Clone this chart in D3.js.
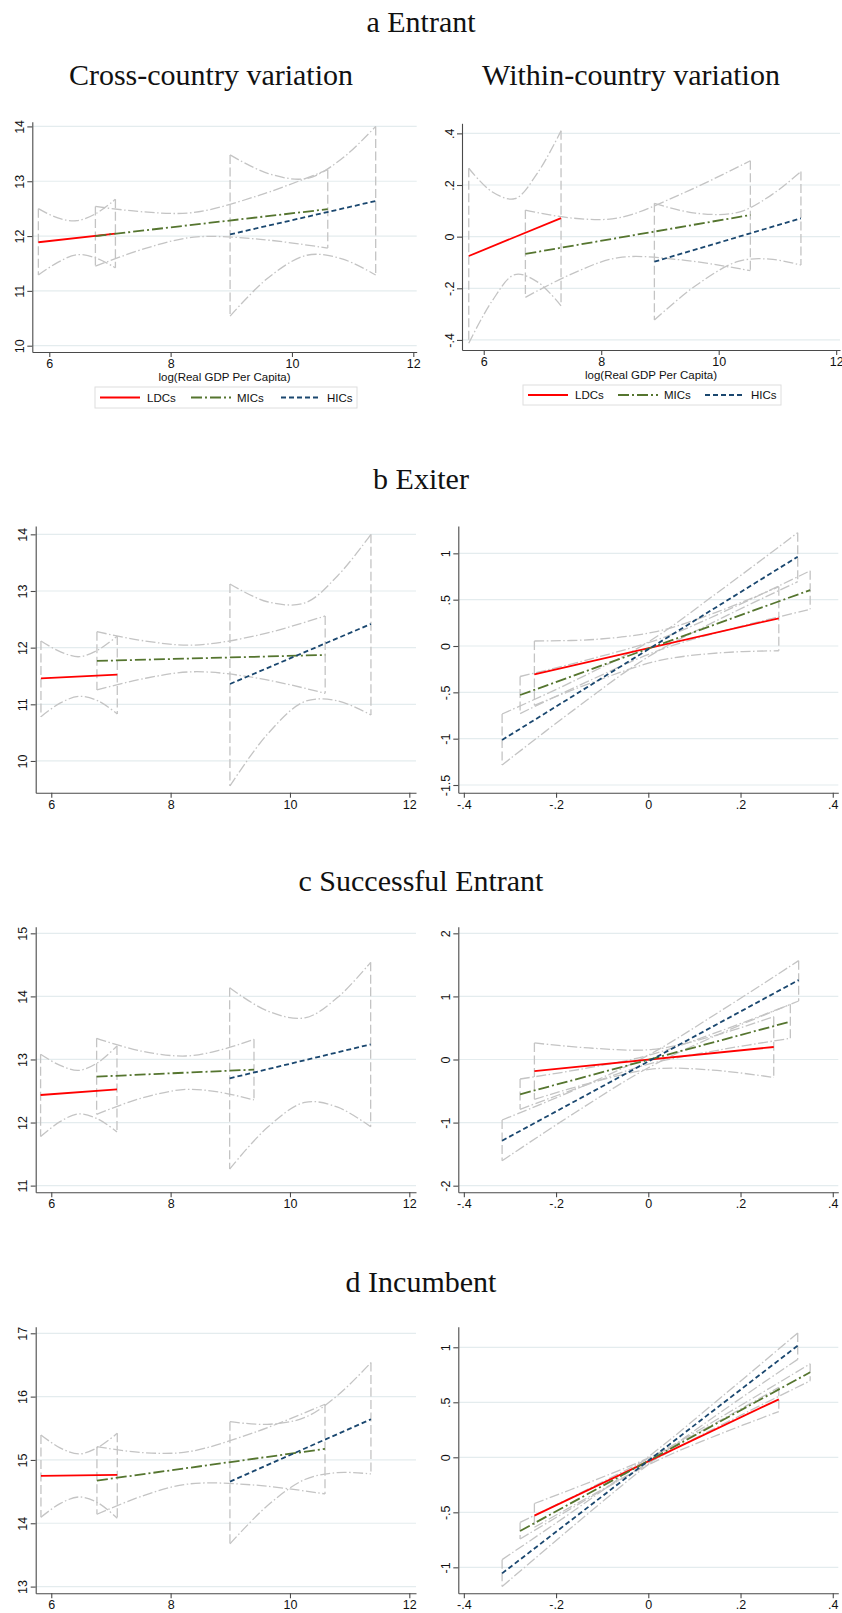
<!DOCTYPE html>
<meta charset="utf-8">
<body style="margin:0">
<script src="https://d3js.org/d3.v7.min.js"></script>
<script>

// Groups shown in every panel.

var groups = ["LDCs", "MICs", "HICs"];

// Section and column titles.

var sectionTitles = ["a Entrant", "b Exiter", "c Successful Entrant", "d Incumbent"];
var columnTitles = ["Cross-country variation", "Within-country variation"];
var xTitle = "log(Real GDP Per Capita)";

// Tick values.

var gdpTicks = [6, 8, 10, 12];
var withinTicks = [-.4, -.2, 0, .2, .4];
var entrantCrossTicks = [10, 11, 12, 13, 14];
var entrantWithinTicks = [-.4, -.2, 0, .2, .4];
var exiterCrossTicks = [10, 11, 12, 13, 14];
var exiterWithinTicks = [-1.5, -1, -.5, 0, .5, 1];
var successCrossTicks = [11, 12, 13, 14, 15];
var successWithinTicks = [-2, -1, 0, 1, 2];
var incumbentCrossTicks = [13, 14, 15, 16, 17];
var incumbentWithinTicks = [-1, -.5, 0, .5, 1];

// Fitted lines (value at first and last x) and confidence bands
// (read at five x positions), one row per group: LDCs, MICs, HICs.

var entrantCross = [
    {x: [5.82, 6.14, 6.455, 6.77, 7.09], fit: [11.887, 12.046],
     hi: [12.50, 12.33, 12.28, 12.41, 12.67], lo: [11.29, 11.52, 11.66, 11.60, 11.42]},
    {x: [6.76, 7.57, 8.38, 9.48, 10.59], fit: [12.00, 12.49],
     hi: [12.54, 12.44, 12.43, 12.75, 13.21], lo: [11.45, 11.77, 11.98, 11.94, 11.78]},
    {x: [8.98, 9.61, 10.244, 10.81, 11.38], fit: [12.03, 12.64],
     hi: [13.48, 13.14, 13.05, 13.40, 14.0], lo: [10.54, 11.24, 11.65, 11.59, 11.29]}
];

var entrantWithin = [
    {x: [5.745, 6.14, 6.53, 6.92, 7.316], fit: [-0.075, 0.072],
     hi: [0.265, 0.174, 0.147, 0.248, 0.41], lo: [-0.413, -0.25, -0.147, -0.176, -0.268]},
    {x: [6.709, 7.5, 8.3, 9.4, 10.539], fit: [-0.067, 0.084],
     hi: [0.103, 0.072, 0.073, 0.169, 0.294], lo: [-0.235, -0.144, -0.081, -0.091, -0.132]},
    {x: [8.905, 9.6, 10.33, 10.87, 11.4], fit: [-0.097, 0.071],
     hi: [0.129, 0.091, 0.094, 0.157, 0.252], lo: [-0.323, -0.191, -0.096, -0.087, -0.110]}
];

var exiterCross = [
    {x: [5.827, 6.147, 6.466, 6.786, 7.106], fit: [11.459, 11.524],
     hi: [12.118, 11.93, 11.84, 11.96, 12.206], lo: [10.782, 11.02, 11.14, 11.06, 10.829]},
    {x: [6.765, 7.58, 8.4, 9.5, 10.59], fit: [11.765, 11.871],
     hi: [12.282, 12.116, 12.045, 12.228, 12.559], lo: [11.253, 11.46, 11.575, 11.454, 11.194]},
    {x: [8.994, 9.62, 10.25, 10.8, 11.357], fit: [11.359, 12.418],
     hi: [13.124, 12.81, 12.79, 13.27, 14.0], lo: [9.559, 10.47, 11.05, 11.06, 10.812]}
];

var exiterWithin = [
    {x: [-0.247, -0.113, 0.02, 0.151, 0.283], fit: [-0.306, 0.299],
     hi: [0.054, 0.072, 0.159, 0.371, 0.64], lo: [-0.64, -0.378, -0.161, -0.075, -0.051]},
    {x: [-0.278, -0.124, 0.03, 0.19, 0.351], fit: [-0.529, 0.604],
     hi: [-0.329, -0.139, 0.086, 0.43, 0.812], lo: [-0.729, -0.365, -0.034, 0.198, 0.396]},
    {x: [-0.317, -0.16, 0.0, 0.16, 0.324], fit: [-1.014, 0.964],
     hi: [-0.734, -0.374, 0.044, 0.613, 1.223], lo: [-1.284, -0.684, -0.116, 0.303, 0.694]}
];

var successCross = [
    {x: [5.821, 6.14, 6.46, 6.78, 7.101], fit: [12.437, 12.527],
     hi: [13.082, 12.91, 12.827, 12.95, 13.214], lo: [11.777, 12.01, 12.137, 12.056, 11.852]},
    {x: [6.76, 7.5, 8.25, 8.82, 9.397], fit: [12.728, 12.839],
     hi: [13.336, 13.134, 13.055, 13.147, 13.32], lo: [12.131, 12.384, 12.525, 12.481, 12.358]},
    {x: [8.989, 9.62, 10.25, 10.8, 11.352], fit: [12.701, 13.24],
     hi: [14.138, 13.77, 13.66, 13.985, 14.54], lo: [11.262, 11.92, 12.32, 12.243, 11.934]}
];

var successWithin = [
    {x: [-0.247, -0.12, 0.01, 0.14, 0.272], fit: [-0.185, 0.198],
     hi: [0.262, 0.178, 0.16, 0.37, 0.679], lo: [-0.632, -0.36, -0.15, -0.168, -0.284]},
    {x: [-0.278, -0.14, 0.0, 0.154, 0.308], fit: [-0.552, 0.6],
     hi: [-0.309, -0.145, 0.065, 0.445, 0.874], lo: [-0.79, -0.417, -0.075, 0.151, 0.335]},
    {x: [-0.317, -0.16, 0.0, 0.163, 0.326], fit: [-1.287, 1.26],
     hi: [-0.959, -0.482, 0.069, 0.798, 1.567], lo: [-1.604, -0.848, -0.131, 0.432, 0.927]}
];

var incumbentCross = [
    {x: [5.827, 6.147, 6.466, 6.786, 7.106], fit: [14.747, 14.763],
     hi: [15.395, 15.19, 15.095, 15.2, 15.421], lo: [14.095, 14.31, 14.415, 14.32, 14.079]},
    {x: [6.765, 7.53, 8.3, 9.44, 10.587], fit: [14.674, 15.174],
     hi: [15.21, 15.116, 15.13, 15.447, 15.879], lo: [14.142, 14.432, 14.62, 14.601, 14.463]},
    {x: [8.994, 9.62, 10.25, 10.8, 11.357], fit: [14.658, 15.642],
     hi: [15.605, 15.562, 15.671, 16.02, 16.537], lo: [13.674, 14.276, 14.691, 14.80, 14.779]}
];

var incumbentWithin = [
    {x: [-0.247, -0.113, 0.02, 0.151, 0.283], fit: [-0.53, 0.527],
     hi: [-0.42, -0.203, 0.032, 0.324, 0.636], lo: [-0.636, -0.323, -0.028, 0.204, 0.416]},
    {x: [-0.278, -0.124, 0.03, 0.19, 0.351], fit: [-0.67, 0.773],
     hi: [-0.592, -0.275, 0.056, 0.446, 0.85], lo: [-0.742, -0.359, 0.016, 0.36, 0.695]},
    {x: [-0.317, -0.16, 0.0, 0.163, 0.324], fit: [-1.055, 1.015],
     hi: [-0.93, -0.481, 0.004, 0.563, 1.13], lo: [-1.175, -0.615, -0.066, 0.428, 0.89]}
];

// Styles.

var width = 842,
    height = 1613;

var lineColor = ["#ff0000", "#55752f", "#1a476f"],
    lineDash = [null, "11,3,2,3", "5,3"],
    bandColor = "#c4c4c4",
    gridColor = "#e4ecee",
    axisColor = "#4a4a4a",
    sans = "Liberation Sans, Arial, sans-serif",
    serif = "Liberation Serif, Times New Roman, serif";

// Panel layout: plot box [left, right, top, bottom] and axis extents.

var panels = [
    {data: entrantCross, box: [32.3, 416.7, 121.7, 352], xdom: [5.72, 12.056], ydom: [9.885, 14.086],
     xticks: gdpTicks, yticks: entrantCrossTicks, xtitle: true,
     legend: {box: [95, 357, 387, 408], lines: [100, 191, 281], text: [147, 237, 327]}},
    {data: entrantWithin, box: [462, 840, 123.3, 350], xdom: [5.63, 12.065], ydom: [-0.439, 0.439],
     xticks: gdpTicks, yticks: entrantWithinTicks, xtitle: true,
     legend: {box: [523, 781, 385, 405], lines: [528, 618, 705], text: [575, 664, 751]}},
    {data: exiterCross, box: [35.7, 416, 526, 792.7], xdom: [5.739, 12.112], ydom: [9.44, 14.147],
     xticks: gdpTicks, yticks: exiterCrossTicks},
    {data: exiterWithin, box: [458.3, 838.3, 526, 792.7], xdom: [-0.412, 0.412], ydom: [-1.583, 1.295],
     xticks: withinTicks, yticks: exiterWithinTicks},
    {data: successCross, box: [35.7, 416, 926.7, 1192.3], xdom: [5.739, 12.112], ydom: [10.894, 15.105],
     xticks: gdpTicks, yticks: successCrossTicks},
    {data: successWithin, box: [458.3, 838.3, 926.7, 1192.3], xdom: [-0.412, 0.412], ydom: [-2.105, 2.105],
     xticks: withinTicks, yticks: successWithinTicks},
    {data: incumbentCross, box: [35.7, 416, 1326.7, 1593.3], xdom: [5.739, 12.112], ydom: [12.894, 17.104],
     xticks: gdpTicks, yticks: incumbentCrossTicks},
    {data: incumbentWithin, box: [458.3, 838.3, 1326.7, 1593.3], xdom: [-0.412, 0.412], ydom: [-1.236, 1.187],
     xticks: withinTicks, yticks: incumbentWithinTicks}
];

var titleY = [32, 489, 891, 1292];

// Stata-like tick labels: drop the leading zero.

function fmt(v) {
    return String(+v.toFixed(2)).replace(/^(-?)0\./, "$1.");
}

var svg = d3.select("body").append("svg")
    .attr("width", width)
    .attr("height", height)
    .style("background", "#fff");

svg.append("rect").attr("width", width).attr("height", height).attr("fill", "#fff");

// Titles.

svg.selectAll(".section")
    .data(sectionTitles)
    .join("text")
    .attr("x", width / 2)
    .attr("y", function(d, i) { return titleY[i]; })
    .attr("text-anchor", "middle")
    .attr("font-family", serif)
    .attr("font-size", "30px")
    .attr("fill", "#111")
    .text(function(d) { return d; });

svg.selectAll(".column")
    .data(columnTitles)
    .join("text")
    .attr("x", function(d, i) { return i ? 631 : 211; })
    .attr("y", 85)
    .attr("text-anchor", "middle")
    .attr("font-family", serif)
    .attr("font-size", "30px")
    .attr("fill", "#111")
    .text(function(d) { return d; });

// Draw panels.

panels.forEach(function(p) {
    var x = d3.scaleLinear().domain(p.xdom).range([p.box[0], p.box[1]]),
        y = d3.scaleLinear().domain(p.ydom).range([p.box[3], p.box[2]]);

    var g = svg.append("g");

    g.selectAll(".grid")
        .data(p.yticks)
        .join("line")
        .attr("x1", p.box[0])
        .attr("x2", p.box[1])
        .attr("y1", function(d) { return y(d); })
        .attr("y2", function(d) { return y(d); })
        .attr("stroke", gridColor)
        .attr("stroke-width", 1.2);

    // Confidence bands.

    var curve = d3.line()
        .x(function(d) { return x(d[0]); })
        .y(function(d) { return y(d[1]); })
        .curve(d3.curveCatmullRom.alpha(0.5));

    var straight = d3.line()
        .x(function(d) { return x(d[0]); })
        .y(function(d) { return y(d[1]); });

    p.data.forEach(function(s) {
        var n = s.x.length - 1;
        ["hi", "lo"].forEach(function(k) {
            g.append("path")
                .attr("d", curve(s.x.map(function(v, i) { return [v, s[k][i]]; })))
                .attr("fill", "none")
                .attr("stroke", bandColor)
                .attr("stroke-width", 1.3)
                .attr("stroke-dasharray", "10,2.5,1.5,2.5");
        });
        [0, n].forEach(function(i) {
            g.append("path")
                .attr("d", straight([[s.x[i], s.hi[i]], [s.x[i], s.lo[i]]]))
                .attr("fill", "none")
                .attr("stroke", bandColor)
                .attr("stroke-width", 1.3)
                .attr("stroke-dasharray", "9,3.5");
        });
    });

    // Fitted lines.

    p.data.forEach(function(s, j) {
        var n = s.x.length - 1;
        g.append("path")
            .attr("d", straight([[s.x[0], s.fit[0]], [s.x[n], s.fit[1]]]))
            .attr("fill", "none")
            .attr("stroke", lineColor[j])
            .attr("stroke-width", 1.8)
            .attr("stroke-dasharray", lineDash[j]);
    });

    // Axes.

    var ya = g.append("g")
        .attr("transform", "translate(" + p.box[0] + ",0)")
        .call(d3.axisLeft(y).tickValues(p.yticks).tickFormat(fmt).tickSize(5).tickSizeOuter(0));

    ya.selectAll("text")
        .attr("x", null)
        .attr("dy", null)
        .attr("text-anchor", "middle")
        .attr("dominant-baseline", "central")
        .attr("transform", "translate(-12.5,0) rotate(-90)");

    var xa = g.append("g")
        .attr("transform", "translate(0," + p.box[3] + ")")
        .call(d3.axisBottom(x).tickValues(p.xticks).tickFormat(fmt).tickSize(5).tickPadding(2).tickSizeOuter(0));

    [ya, xa].forEach(function(a) {
        a.attr("font-family", sans).attr("font-size", "12.5px");
        a.selectAll("path, line").attr("stroke", axisColor).attr("stroke-width", 1.1);
        a.selectAll("text").attr("fill", "#111");
    });

    if (p.xtitle) {
        g.append("text")
            .attr("x", (p.box[0] + p.box[1]) / 2)
            .attr("y", p.box[3] + 29)
            .attr("text-anchor", "middle")
            .attr("font-family", sans)
            .attr("font-size", "11.5px")
            .attr("fill", "#111")
            .text(xTitle);
    }

    // Legend.

    if (p.legend) {
        var L = p.legend,
            cy = (L.box[2] + L.box[3]) / 2;

        g.append("rect")
            .attr("x", L.box[0])
            .attr("y", L.box[2])
            .attr("width", L.box[1] - L.box[0])
            .attr("height", L.box[3] - L.box[2])
            .attr("fill", "#fff")
            .attr("stroke", "#dedede");

        groups.forEach(function(name, j) {
            g.append("line")
                .attr("x1", L.lines[j])
                .attr("x2", L.lines[j] + 40)
                .attr("y1", cy)
                .attr("y2", cy)
                .attr("stroke", lineColor[j])
                .attr("stroke-width", 1.8)
                .attr("stroke-dasharray", lineDash[j]);

            g.append("text")
                .attr("x", L.text[j])
                .attr("y", cy)
                .attr("dominant-baseline", "central")
                .attr("font-family", sans)
                .attr("font-size", "11.5px")
                .attr("fill", "#111")
                .text(name);
        });
    }
});

</script>
</html>
